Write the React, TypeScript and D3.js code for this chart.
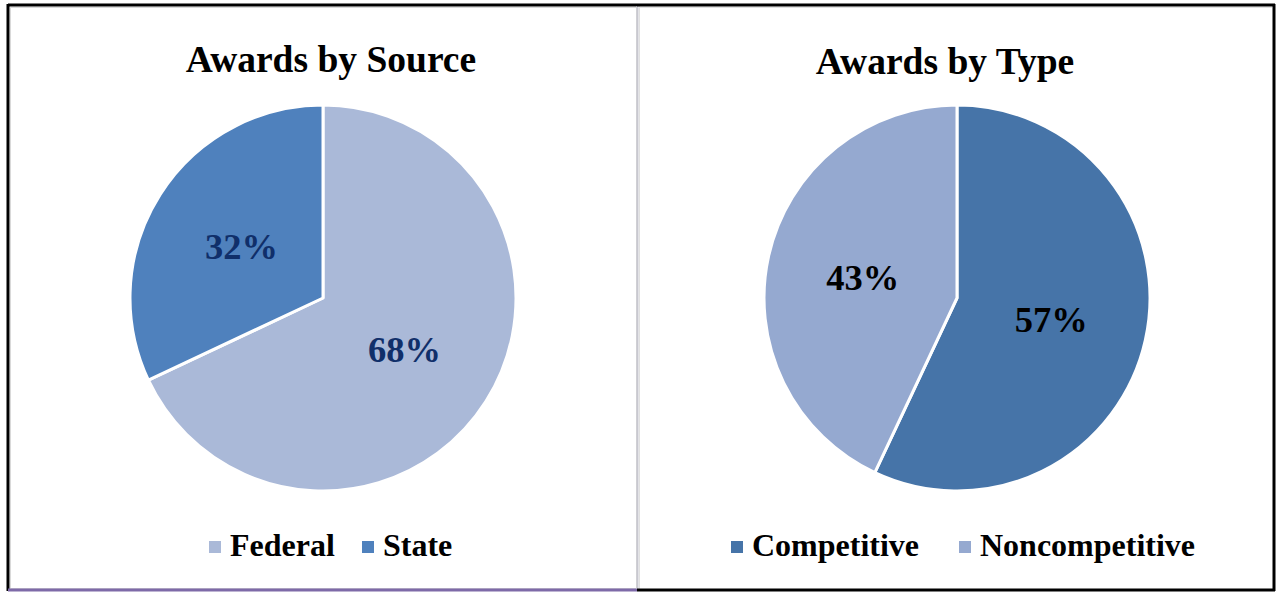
import React from "react";
import * as d3 from "d3";

const sourceCategories = ["Federal", "State"];
const sourceValues = [68, 32];
const sourceColors = ["#AAB9D8", "#4F81BD"];

const typeCategories = ["Competitive", "Noncompetitive"];
const typeValues = [57, 43];
const typeColors = ["#4674A8", "#95A9D0"];

const FONT = "'Liberation Serif', 'Times New Roman', serif";

function Pie({ cx, cy, r, cats, vals, colors, labelColor }: any) {
  const pie = d3.pie<number>().sort(null).value((d) => d)(vals);
  const arc = d3.arc<any>().innerRadius(0).outerRadius(r);
  return (
    <g transform={`translate(${cx},${cy})`}>
      {pie.map((p, i) => (
        <path key={cats[i]} d={arc(p) || ""} fill={colors[i]} stroke="#fff" strokeWidth={3} strokeLinejoin="round" />
      ))}
      {pie.map((p, i) => {
        const [x, y] = arc.centroid(p);
        return (
          <text key={"l" + i} x={x} y={y} dy="0.35em" textAnchor="middle" fontFamily={FONT} fontWeight="bold" fontSize={36.5} fill={labelColor}>
            {vals[i]}%
          </text>
        );
      })}
    </g>
  );
}

function Legend({ x, y, cats, colors, gap }: any) {
  let cur = x;
  const items: any[] = [];
  cats.forEach((c: string, i: number) => {
    items.push(
      <g key={c}>
        <rect x={cur} y={y - 15} width={12} height={12} fill={colors[i]} />
        <text x={cur + 21} y={y} fontFamily={FONT} fontWeight="bold" fontSize={32} fill="#000">{c}</text>
      </g>
    );
    cur += gap[i];
  });
  return <g>{items}</g>;
}

export default function App() {
  return (
    <svg width={1276} height={593} style={{ position: "absolute", left: 0, top: 0, background: "#fff" }}>
      <rect x={0} y={0} width={1276} height={593} fill="#fff" />
      {/* left panel */}
      <rect x={10.5} y={7.5} width={626} height={581} fill="#fff" stroke="#D9D9D9" strokeWidth={1} />
      <line x1={8} y1={5} x2={637} y2={5} stroke="#000" strokeWidth={3} />
      <line x1={8} y1={4} x2={8} y2={591} stroke="#000" strokeWidth={3} />
      <line x1={8} y1={590} x2={637} y2={590} stroke="#7E6AA8" strokeWidth={3} />
      {/* divider */}
      <line x1={637.5} y1={6} x2={637.5} y2={589} stroke="#C8C8D0" strokeWidth={2} />
      <line x1={639.5} y1={6} x2={639.5} y2={589} stroke="#E0E0E0" strokeWidth={1} />
      {/* right panel */}
      <line x1={637} y1={5} x2={1275} y2={5} stroke="#000" strokeWidth={3} />
      <line x1={1274} y1={4} x2={1274} y2={591} stroke="#000" strokeWidth={3} />
      <line x1={637} y1={590} x2={1275} y2={590} stroke="#000" strokeWidth={3} />
      <line x1={640} y1={7.5} x2={1272} y2={7.5} stroke="#E0E0E0" strokeWidth={1} />

      <text x={331} y={72} textAnchor="middle" fontFamily={FONT} fontWeight="bold" fontSize={37.5}>Awards by Source</text>
      <text x={945} y={74} textAnchor="middle" fontFamily={FONT} fontWeight="bold" fontSize={37.5}>Awards by Type</text>

      <Pie cx={323} cy={298} r={193} cats={sourceCategories} vals={sourceValues} colors={sourceColors} labelColor="#102F6A" />
      <Pie cx={957} cy={298} r={193} cats={typeCategories} vals={typeValues} colors={typeColors} labelColor="#000" />

      <Legend x={209} y={556} cats={sourceCategories} colors={sourceColors} gap={[153, 0]} />
      <Legend x={731} y={556} cats={typeCategories} colors={typeColors} gap={[228, 0]} />
    </svg>
  );
}
